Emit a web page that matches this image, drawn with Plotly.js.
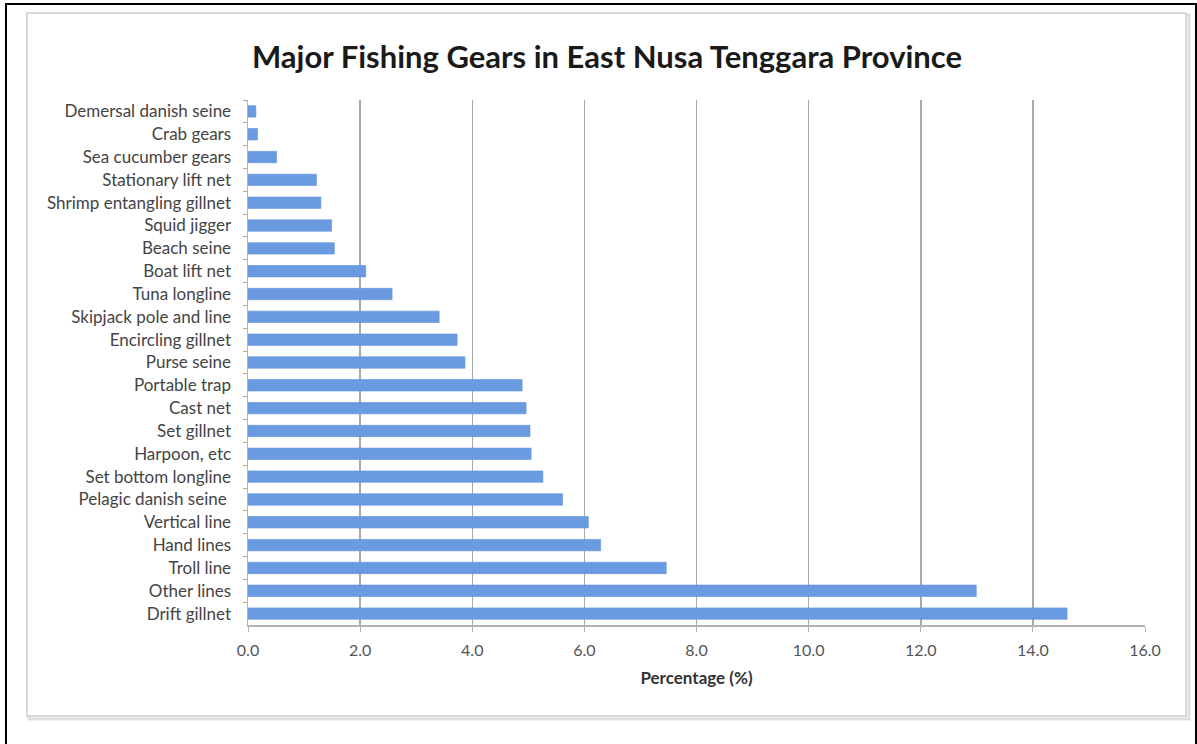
<!DOCTYPE html>
<html>
<head>
<meta charset="utf-8">
<script src="https://cdn.plot.ly/plotly-3.0.1.min.js"></script>
<style>
  html, body { margin: 0; padding: 0; background: #ffffff; }
  #chart { width: 1197px; height: 744px; }
</style>
</head>
<body>
<div id="chart"></div>
<script>
// Fishing gear categories, listed top to bottom
const gears = [
  "Demersal danish seine",
  "Crab gears",
  "Sea cucumber gears",
  "Stationary lift net",
  "Shrimp entangling gillnet",
  "Squid jigger",
  "Beach seine",
  "Boat lift net",
  "Tuna longline",
  "Skipjack pole and line",
  "Encircling gillnet",
  "Purse seine",
  "Portable trap",
  "Cast net",
  "Set gillnet",
  "Harpoon, etc",
  "Set bottom longline",
  "Pelagic danish seine ",
  "Vertical line",
  "Hand lines",
  "Troll line",
  "Other lines",
  "Drift gillnet"
];

// Share of each gear (%)
const percentages = [
  0.14, 0.17, 0.51, 1.22, 1.30, 1.49, 1.54, 2.10, 2.57, 3.41, 3.73, 3.87,
  4.89, 4.96, 5.03, 5.05, 5.26, 5.61, 6.07, 6.29, 7.46, 12.99, 14.61
];

const xTicks = [0, 2, 4, 6, 8, 10, 12, 14, 16];

const W = 1197, H = 744;
const M = { l: 248, r: 52, t: 100, b: 119 };
const pw = W - M.l - M.r, ph = H - M.t - M.b;
// page pixel -> paper fraction helpers for the frame shapes
const px = v => (v - M.l) / pw;
const py = v => 1 - (v - M.t) / ph;

const trace = {
  type: "bar",
  orientation: "h",
  y: gears,
  x: percentages,
  marker: {
    color: "#6a9be1",
    line: { color: "#5f90d8", width: 0.6 }
  },
  hoverinfo: "x+y"
};

const layout = {
  width: W,
  height: H,
  margin: M,
  paper_bgcolor: "#ffffff",
  plot_bgcolor: "#ffffff",
  showlegend: false,
  bargap: 0.5,
  font: { family: "Lato, 'Open Sans', sans-serif", color: "#444444" },
  title: {
    text: "Major Fishing Gears in East Nusa Tenggara Province",
    font: { family: "Lato, sans-serif", size: 31, color: "#1a1a1a", weight: "bold" },
    x: 607 / W,
    xanchor: "center",
    xref: "container",
    y: 1 - 57 / H,
    yanchor: "middle",
    yref: "container"
  },
  xaxis: {
    range: [0, 16],
    tickvals: xTicks,
    tickformat: ".1f",
    showgrid: true,
    gridcolor: "#a9a9a9",
    gridwidth: 1.5,
    zeroline: false,
    showline: true,
    linecolor: "#b4b4b4",
    linewidth: 1.5,
    ticks: "outside",
    ticklen: 5,
    tickcolor: "#b4b4b4",
    tickfont: { size: 16, color: "#555555" },
    ticklabelstandoff: 5,
    fixedrange: true,
    title: {
      text: "<b>Percentage (%)</b>",
      font: { size: 17, color: "#333333" },
      standoff: 14
    }
  },
  yaxis: {
    type: "category",
    categoryorder: "array",
    categoryarray: gears,
    autorange: "reversed",
    showgrid: false,
    zeroline: false,
    showline: true,
    linecolor: "#b4b4b4",
    linewidth: 1.5,
    ticks: "outside",
    tickson: "boundaries",
    ticklen: 4,
    tickcolor: "#c3a27a",
    tickfont: { size: 17, color: "#444444" },
    ticklabelstandoff: 12,
    fixedrange: true
  },
  shapes: [
    // soft drop shadow behind the chart frame
    {
      type: "rect", xref: "paper", yref: "paper", layer: "below",
      x0: px(29), x1: px(1189), y0: py(15), y1: py(719),
      line: { color: "#dedede", width: 3 }, fillcolor: "rgba(0,0,0,0)"
    },
    // light grey chart frame
    {
      type: "rect", xref: "paper", yref: "paper", layer: "below",
      x0: px(27), x1: px(1186), y0: py(13), y1: py(716),
      line: { color: "#cccccc", width: 1.5 }, fillcolor: "#ffffff"
    },
    // outer black border
    {
      type: "rect", xref: "paper", yref: "paper", layer: "below",
      x0: px(6), x1: px(1196), y0: py(4), y1: py(760),
      line: { color: "#000000", width: 2 }, fillcolor: "rgba(0,0,0,0)"
    }
  ]
};

Plotly.newPlot("chart", [trace], layout, { displayModeBar: false, staticPlot: true });
</script>
</body>
</html>
